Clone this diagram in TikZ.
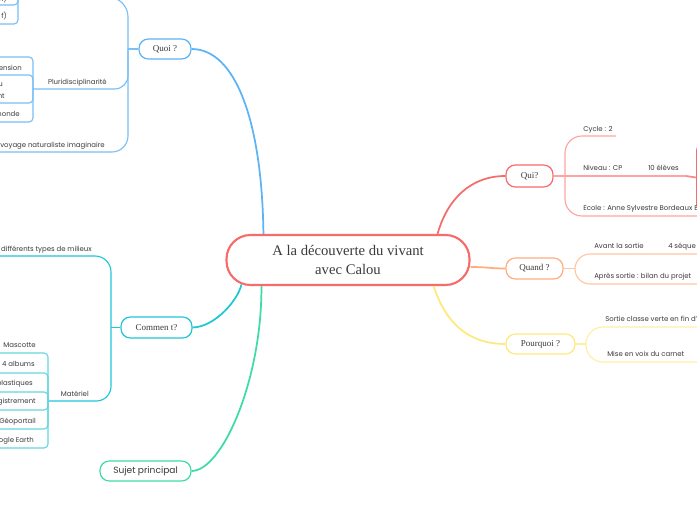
\documentclass[tikz,border=0pt]{standalone}
\usepackage{fontspec}
\setmainfont{Liberation Serif}
\newfontfamily\lblfont{Poppins}
\usetikzlibrary{calc}
\definecolor{txt}{HTML}{3A3A3A}
\definecolor{cred}{HTML}{F76B6B}
\definecolor{credl}{HTML}{FFA3A3}
\definecolor{cblue}{HTML}{5CB3F5}
\definecolor{cbluel}{HTML}{78C0F6}
\definecolor{ccyan}{HTML}{1FC6D6}
\definecolor{ccyanl}{HTML}{66D6E0}
\definecolor{cgreen}{HTML}{3EDCA5}
\definecolor{corange}{HTML}{FFAD7D}
\definecolor{corangel}{HTML}{FFC6A3}
\definecolor{cyellow}{HTML}{FFE87C}
\definecolor{cyellowl}{HTML}{FFEFA3}
\tikzset{
  br/.style={draw, rounded corners=7pt, fill=white, line width=0.9pt, inner sep=0pt,
    font=\fontsize{6.75}{8}\selectfont, text=txt},
  lbl/.style={font=\lblfont\fontsize{5.2}{6.3}\selectfont, text=txt, inner sep=0pt, anchor=base west},
  lblr/.style={lbl, anchor=base east},
  conn/.style={line width=1.3pt},
  sub/.style={line width=0.85pt},
}
\begin{document}
\begin{tikzpicture}[x=0.75pt,y=-0.75pt]
\useasboundingbox (0,0) rectangle (697,520);
\clip (0,0) rectangle (697,520);
\fill[white] (0,0) rectangle (697,520);

% central node
\node[draw=cred, line width=1.6pt, rounded corners=18pt, fill=white, minimum width=182.25pt,
  minimum height=37.5pt, inner sep=0pt, align=center, text=txt,
  font=\fontsize{11}{14.25}\selectfont] (central) at (348,260) {A la découverte du vivant\\avec Calou};

% branch nodes
\node[br, draw=cblue, minimum width=39pt, minimum height=15pt] (quoi) at (165,49) {Quoi ?};
\node[br, draw=ccyan, minimum width=53.25pt, minimum height=15.75pt] (comm) at (156.5,327.5) {Commen t?};
\node[br, draw=cgreen, minimum width=68.25pt, minimum height=15pt,
  font=\lblfont\fontsize{6.8}{8}\selectfont] (sujet) at (145.5,471) {Sujet principal};
\node[br, draw=cred, minimum width=35.25pt, minimum height=16.5pt] (qui) at (529.5,176) {Qui?};
\node[br, draw=corange, minimum width=42.75pt, minimum height=15.75pt] (quand) at (534.5,268.5) {Quand ?};
\node[br, draw=cyellow, minimum width=51.75pt, minimum height=15pt] (pq) at (540.5,344) {Pourquoi ?};
\node[draw=cred, line width=0.9pt, rounded corners=6pt, minimum width=60pt, minimum height=51.75pt,
  anchor=west, inner sep=0pt] (qbox) at (696,177.5) {};

% main connectors
\draw[conn, cblue] (quoi.east) .. controls (235,49) and (262,120) .. ($(central.north west)+(38,0)$);
\draw[conn, ccyan] (comm.east) .. controls (215,327) and (238,300) .. ($(central.south west)+(16,-1.5)$);
\draw[conn, cgreen] (sujet.east) .. controls (222,471) and (262,380) .. ($(central.south west)+(36,0)$);
\draw[conn, cred] ($(central.north east)+(-33,0)$) .. controls (447,200) and (470,176) .. (qui.west);
\draw[conn, corange] ($(central.east)+(0,7)$) .. controls (488,267) and (490,268.5) .. (quand.west);
\draw[conn, cyellow] ($(central.south east)+(-37,0)$) .. controls (448,330) and (475,344) .. (pq.west);

% Qui children
\draw[sub, credl] (qui.east) -- (565,176);
\draw[sub, credl, rounded corners=12.75pt] (616,136) -- (565,136) -- (565,216) -- (700,216);
\draw[sub, credl] (565,176) -- (686,176);
\draw[line width=1.3pt, cred!80] (686,176) -- (qbox.west);
\node[lbl] (cyc) at (583,131.5) {Cycle : 2};
\node[lbl] (niv) at (583,171) {Niveau : CP};
\node[lbl] (elv) at (648,171) {10 élèves};
\node[lbl] (eco) at (583,210.5) {Ecole : Anne Sylvestre Bordeaux B};

% Quand children
\draw[sub, corangel] (quand.east) -- (575,268.5);
\draw[sub, corangel, rounded corners=11.25pt] (700,254) -- (575,254) -- (575,284) -- (700,284);
\node[lbl] (av) at (594,248.5) {Avant la sortie};
\node[lbl] (seq) at (668,248.5) {4 séque};
\node[lbl] (ap) at (594,278.5) {Après sortie : bilan du projet};

% Pourquoi children
\draw[sub, cyellowl] (pq.east) -- (586,344);
\draw[sub, cyellowl, rounded corners=12.75pt] (700,327) -- (586,327) -- (586,362) -- (700,362);
\node[lbl] (so) at (605,321.5) {Sortie classe verte en fin d’};
\node[lbl] (mi) at (607,357) {Mise en voix du carnet};

% Quoi children
\draw[sub, cbluel] (quoi.west) -- (128,49);
\draw[sub, cbluel, rounded corners=15pt] (128,49) -- (128,-3) -- (60,-3);
\draw[sub, cbluel, rounded corners=12pt] (128,49) -- (128,152) -- (-5,152);
\draw[sub, cbluel, rounded corners=10pt] (128,49) -- (128,89) -- (33,89);
\foreach \yy in {57,75,103,122}
  \draw[sub, cbluel, rounded corners=3pt] (-5,\yy) -- (33,\yy) -- (33,89);
\foreach \yy in {5,24}
  \draw[sub, cbluel, rounded corners=3pt] (-5,\yy) -- (18,\yy) -- (18,-12);
\node[lblr] (plu) at (107,85) {Pluridisciplinarité};
\node[lblr] (voy) at (105,148) {voyage naturaliste imaginaire};
\node[lblr] (ens) at (22,70.5) {ension};
\node[lblr] (uu) at (3,87) {u};
\node[lblr] (nt) at (5,98.5) {nt};
\node[lblr] (mon) at (20,117) {monde};
\node[lblr] (ff) at (7,18.5) {f)};
\node[lblr] (nn) at (7,1.5) {n)};

% Commen t? children
\draw[sub, ccyan] (comm.west) -- (111,327.5);
\draw[sub, ccyan, rounded corners=12pt] (111,327.5) -- (111,256) -- (-5,256);
\draw[sub, ccyan, rounded corners=11pt] (111,327.5) -- (111,401) -- (48,401);
\foreach \yy in {353,373,392,410,429,448}
  \draw[sub, ccyanl, rounded corners=3pt] (-5,\yy) -- (48,\yy) -- (48,401);
\node[lblr] (dif) at (92,251.5) {différents types de milieux};
\node[lblr] (mat) at (89,396.5) {Matériel};
\node[lblr] (mas) at (36,347.5) {Mascotte};
\node[lblr] (alb) at (35,366.5) {4 albums};
\node[lblr] (pla) at (33,385.5) {plastiques};
\node[lblr] (gis) at (36,404) {gistrement};
\node[lblr] (geo) at (36,423.5) {Géoportail};
\node[lblr] (ogl) at (34,442.5) {ogle Earth};
\end{tikzpicture}
\end{document}
